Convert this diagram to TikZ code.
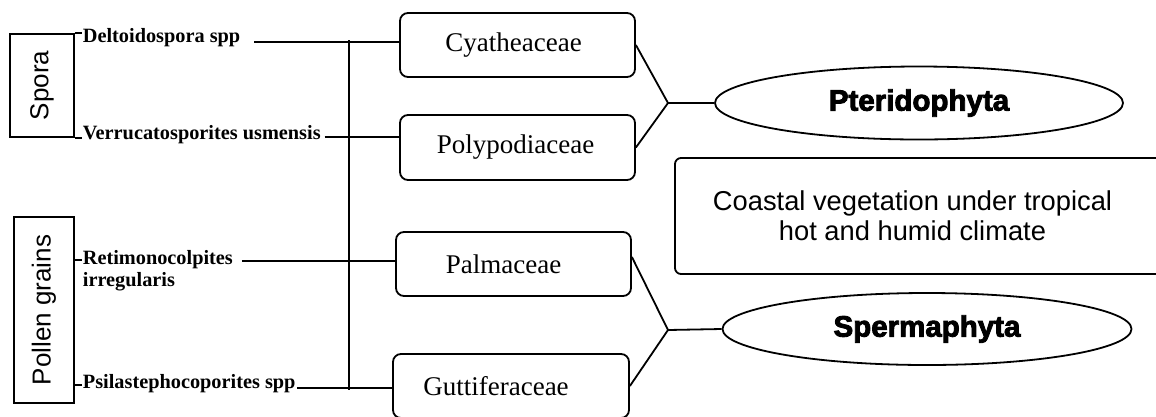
\documentclass[tikz,border=0pt]{standalone}
\usepackage{fontspec}
\setmainfont{Liberation Serif}
\setsansfont{Liberation Sans}
\newfontfamily\heavyfont{Liberation Sans Bold}[FakeBold=3]
\usetikzlibrary{shapes.geometric}
\begin{document}
\begin{tikzpicture}[x=1pt,y=-1pt,line width=1.8pt,
  fam/.style={draw, rounded corners=8pt, minimum width=235pt, minimum height=64pt, inner sep=0pt, font=\fontsize{27}{30}\selectfont},
  grp/.style={draw, inner sep=0pt, rotate=90, font=\sffamily\fontsize{26}{30}\selectfont},
  spec/.style={inner sep=0pt, font=\bfseries\fontsize{20.3}{22}\selectfont, align=left},
  division/.style={draw, ellipse, inner sep=0pt, minimum width=408pt, minimum height=73pt, font=\heavyfont\fontsize{29.5}{32}\selectfont},
  link/.style={line width=1.8pt}]
\useasboundingbox (0,0) rectangle (1156,416);

% group boxes
\node[grp, minimum width=103pt, minimum height=64pt] (spora) at (42,85.5) {Spora};
\node[grp, minimum width=186pt, minimum height=60pt] (pollen) at (44,310) {Pollen grains};

% species
\node[spec, anchor=base west] (delt) at (82,42) {Deltoidospora spp};
\node[spec, anchor=base west] (verr) at (82,139) {Verrucatosporites usmensis};
\node[spec, anchor=north west] (reti) at (82,250) {Retimonocolpites\\irregularis};
\node[spec, anchor=base west] (psil) at (82,388) {Psilastephocoporites spp};

% families
\node[fam] (cya) at (517.5,45) {\hspace*{-8pt}Cyatheaceae};
\node[fam, minimum height=65pt] (poly) at (517.5,147.5) {\hspace*{-4pt}Polypodiaceae};
\node[fam] (palm) at (513.5,264) {\hspace*{-20pt}Palmaceae};
\node[fam, minimum width=236pt] (gutt) at (511,386) {\hspace*{-30pt}Guttiferaceae};

% divisions
\node[division] (pter) at (919,103) {Pteridophyta};
\node[division, minimum width=409pt, minimum height=72pt] (sperm) at (927,329) {Spermaphyta};

% coastal box
\node[draw, rounded corners=6pt, minimum width=500pt, minimum height=116pt, inner sep=0pt] (coastbox) at (925,216) {};
\node[align=center, inner sep=0pt, font=\sffamily\fontsize{27.3}{30}\selectfont] (coast) at (912.5,216) {Coastal vegetation under tropical\\hot and humid climate};

% junctions and trunk
\coordinate (j1) at (668,103);
\coordinate (j2) at (668,330);
\coordinate (ttop) at (349,40);
\coordinate (tbot) at (349,390);

% ticks from group boxes
\draw[link] (spora.south east) -- (spora.south east -| delt.west);
\draw[link] (spora.south west) -- (spora.south west -| verr.west);
\draw[link] (pollen.south |- 0,260) coordinate (pr) -- (pr -| reti.west);
\draw[link] (pollen.south |- 0,385) coordinate (pp) -- (pp -| psil.west);

% species to families
\draw[link] ([xshift=13pt]delt.base east) -- (delt.base east -| cya.west);
\draw[link] ([xshift=3pt,yshift=2pt]verr.base east) -- ([yshift=2pt]verr.base east -| poly.west);
\draw[link] ([xshift=8pt]reti.north east |- 0,261) coordinate (rr) -- (rr -| palm.west);
\draw[link] ([xshift=1pt]psil.base east) -- (psil.base east -| gutt.west);
\draw[link] (ttop) -- (tbot);

% families to divisions
\draw[link] (cya.east) -- (j1);
\draw[link] (poly.east) -- (j1);
\draw[link] (j1) -- (pter.west);
\draw[link] ([yshift=7pt]palm.east) -- (j2);
\draw[link] (gutt.east) -- (j2);
\draw[link] (j2) -- (sperm.west);
\end{tikzpicture}
\end{document}
